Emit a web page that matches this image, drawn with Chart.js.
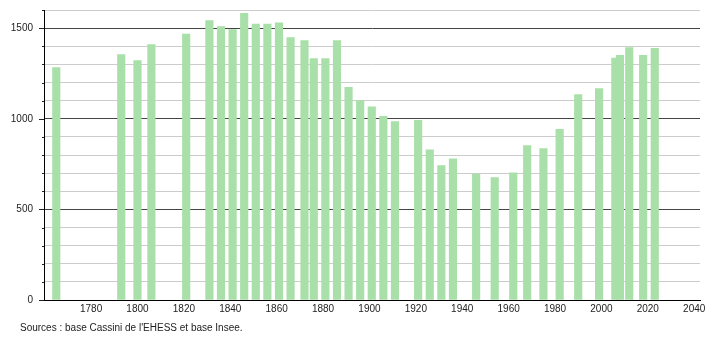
<!DOCTYPE html>
<html>
<head>
<meta charset="utf-8">
<script src="https://cdn.jsdelivr.net/npm/chart.js@4/dist/chart.umd.min.js"></script>
<style>
  html, body { margin: 0; padding: 0; background: #fff; }
  #wrap { width: 710px; height: 340px; }
</style>
</head>
<body>
<div id="wrap"><canvas id="chart" width="710" height="340"></canvas></div>
<script>
// census years and population
const years = [1765, 1793, 1800, 1806, 1821, 1831, 1836, 1841, 1846, 1851,
    1856, 1861, 1866, 1872, 1876, 1881, 1886, 1891, 1896, 1901,
    1906, 1911, 1921, 1926, 1931, 1936, 1946, 1954, 1962, 1968,
    1975, 1982, 1990, 1999, 2006, 2008, 2012, 2018, 2023];
const population = [1282, 1354, 1321, 1409, 1467, 1542, 1508, 1492, 1581, 1522,
    1522, 1529, 1448, 1431, 1332, 1332, 1431, 1173, 1100, 1066,
    1013, 985, 991, 828, 742, 779, 695, 675, 702, 852,
    836, 941, 1133, 1166, 1335, 1350, 1392, 1350, 1389];
const xTicks = [1780, 1800, 1820, 1840, 1860, 1880, 1900, 1920, 1940, 1960, 1980, 2000, 2020, 2040];
const yLabelled = [0, 500, 1000, 1500];
const sourceText = "Sources : base Cassini de l'EHESS et base Insee.";

const FONT = '"Liberation Sans", Arial, sans-serif';

// short ticks on the y axis, longer on the labelled values
const yTickMarks = {
    id: 'yTickMarks',
    afterDatasetsDraw(chart) {
        const y = chart.scales.y;
        const ctx = chart.ctx;
        ctx.save();
        ctx.strokeStyle = '#222';
        ctx.lineWidth = 1;
        y.ticks.forEach(t => {
            const py = Math.round(y.getPixelForValue(t.value)) + 0.5;
            const len = yLabelled.includes(t.value) ? 5 : 2;
            ctx.beginPath();
            ctx.moveTo(y.right - len, py);
            ctx.lineTo(y.right, py);
            ctx.stroke();
        });
        ctx.restore();
    }
};

const sourceNote = {
    id: 'sourceNote',
    afterDraw(chart) {
        const ctx = chart.ctx;
        ctx.save();
        ctx.font = '10px ' + FONT;
        ctx.fillStyle = '#222';
        ctx.textBaseline = 'middle';
        ctx.fillText(sourceText, 20, 328);
        ctx.restore();
    }
};

new Chart(document.getElementById('chart').getContext('2d'), {
    type: 'bar',
    data: {
        datasets: [{
            data: years.map((yr, i) => ({ x: yr, y: population[i] })),
            backgroundColor: '#a9dfa9',
            borderWidth: 0,
            barThickness: 7.5
        }]
    },
    options: {
        responsive: false,
        animation: false,
        devicePixelRatio: 1,
        layout: { padding: { top: 10, right: 10, left: 0, bottom: 0 } },
        plugins: {
            legend: { display: false },
            tooltip: { enabled: false }
        },
        scales: {
            x: {
                type: 'linear',
                offset: false,
                min: 1759.7,
                max: 2042.5,
                afterBuildTicks: axis => { axis.ticks = xTicks.map(v => ({ value: v })); },
                afterFit: axis => {
                    axis.height = 40;
                    axis.paddingLeft = 0;
                    axis.paddingRight = 0;
                },
                grid: { display: false, drawTicks: false },
                border: { display: true, color: '#000', width: 1 },
                ticks: {
                    padding: 3,
                    maxRotation: 0,
                    autoSkip: false,
                    color: '#222',
                    font: { family: FONT, size: 10 },
                    callback: v => String(v)
                }
            },
            y: {
                min: 0,
                max: 1600,
                afterFit: axis => {
                    axis.width = 44;
                    // keep label overflow from pushing the plot down
                    axis.paddingTop = 0;
                    axis.paddingBottom = 0;
                },
                grid: {
                    drawTicks: false,
                    color: c => (c.tick && yLabelled.includes(c.tick.value)) ? '#444' : '#cccccc',
                    lineWidth: 1
                },
                border: { display: true, color: '#000', width: 1 },
                ticks: {
                    stepSize: 100,
                    padding: 11,
                    color: '#222',
                    font: { family: FONT, size: 10 },
                    callback: v => yLabelled.includes(v) ? String(v) : ''
                }
            }
        }
    },
    plugins: [yTickMarks, sourceNote]
});
</script>
</body>
</html>
